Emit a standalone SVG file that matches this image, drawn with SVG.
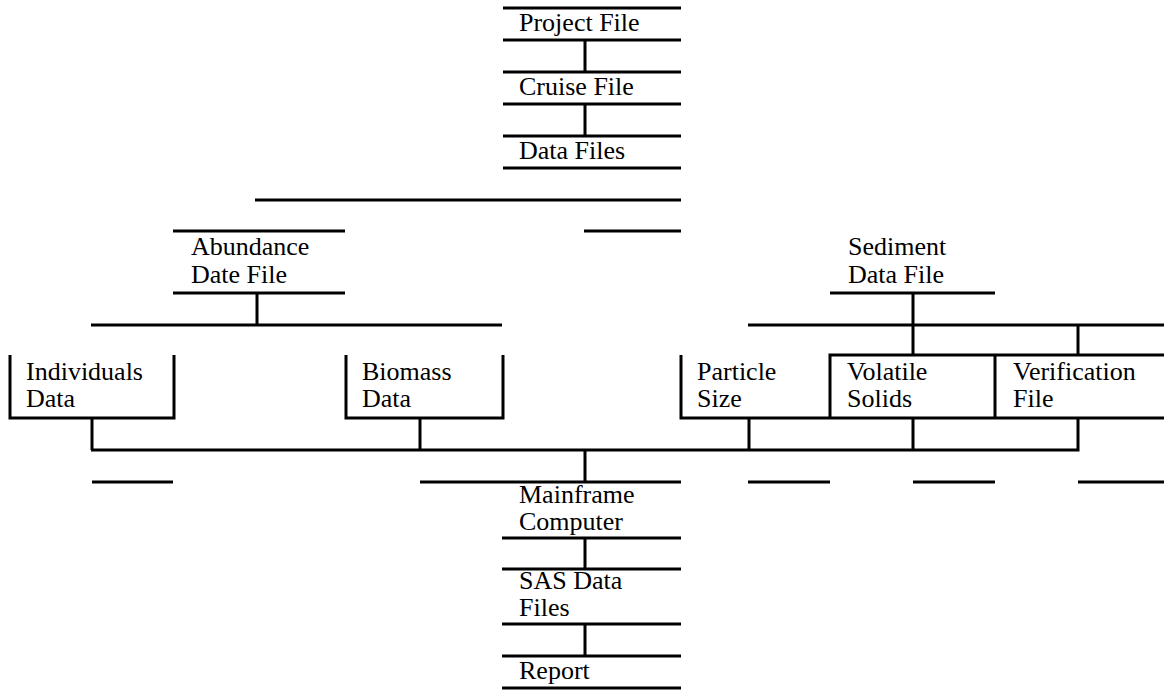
<svg xmlns="http://www.w3.org/2000/svg" width="1164" height="690" viewBox="0 0 1164 690">
<style>
  line, polyline { stroke: #000; stroke-width: 3; fill: none; stroke-linecap: butt; stroke-linejoin: miter; }
  text { font-family: "Liberation Serif", "Times New Roman", Times, serif; font-size: 26px; fill: #000; }
</style>
<rect x="0" y="0" width="1164" height="690" fill="#fff"/>
<g id="project-file">
  <line x1="503" y1="8" x2="681" y2="8"/>
  <line x1="503" y1="40" x2="681" y2="40"/>
  <text x="519" y="31">Project File</text>
</g>
<g id="cruise-file">
  <line x1="503" y1="72" x2="681" y2="72"/>
  <line x1="503" y1="104" x2="681" y2="104"/>
  <text x="519" y="95">Cruise File</text>
</g>
<g id="data-files">
  <line x1="503" y1="136" x2="681" y2="136"/>
  <line x1="503" y1="168" x2="681" y2="168"/>
  <text x="519" y="159">Data Files</text>
</g>
<g id="abundance-date-file">
  <line x1="173" y1="231" x2="345" y2="231"/>
  <line x1="173" y1="293" x2="345" y2="293"/>
  <text x="191" y="255">Abundance</text>
  <text x="191" y="283">Date File</text>
</g>
<g id="sediment-data-file">
  <line x1="830" y1="293" x2="995" y2="293"/>
  <text x="848" y="255">Sediment</text>
  <text x="848" y="283">Data File</text>
</g>
<g id="individuals-data">
  <polyline points="10,355 10,418 174,418 174,355"/>
  <text x="26" y="380">Individuals</text>
  <text x="26" y="407">Data</text>
</g>
<g id="biomass-data">
  <polyline points="346,355 346,418 503,418 503,355"/>
  <text x="362" y="380">Biomass</text>
  <text x="362" y="407">Data</text>
</g>
<g id="particle-size">
  <polyline points="681,355 681,418 830,418"/>
  <text x="697" y="380">Particle</text>
  <text x="697" y="407">Size</text>
</g>
<g id="volatile-solids">
  <polyline points="830,418 830,355 995,355"/>
  <line x1="830" y1="418" x2="995" y2="418"/>
  <text x="847" y="380">Volatile</text>
  <text x="847" y="407">Solids</text>
</g>
<g id="verification-file">
  <line x1="995" y1="355" x2="1164" y2="355"/>
  <line x1="995" y1="355" x2="995" y2="418"/>
  <line x1="995" y1="418" x2="1164" y2="418"/>
  <text x="1013" y="380">Verification</text>
  <text x="1013" y="407">File</text>
</g>
<g id="mainframe-computer">
  <line x1="420" y1="482" x2="681" y2="482"/>
  <line x1="502" y1="538" x2="681" y2="538"/>
  <text x="519" y="503">Mainframe</text>
  <text x="519" y="530">Computer</text>
</g>
<g id="sas-data-files">
  <line x1="502" y1="569" x2="681" y2="569"/>
  <line x1="502" y1="624" x2="681" y2="624"/>
  <text x="519" y="589">SAS Data</text>
  <text x="519" y="616">Files</text>
</g>
<g id="report">
  <line x1="502" y1="656" x2="681" y2="656"/>
  <line x1="502" y1="688" x2="681" y2="688"/>
  <text x="519" y="679">Report</text>
</g>
<g id="connectors">
  <line x1="585" y1="40" x2="585" y2="72"/>
  <line x1="585" y1="104" x2="585" y2="136"/>
  <line x1="255" y1="200" x2="681" y2="200"/>
  <line x1="584" y1="231" x2="681" y2="231"/>
  <line x1="257" y1="293" x2="257" y2="325"/>
  <line x1="91" y1="325" x2="502" y2="325"/>
  <line x1="913" y1="293" x2="913" y2="355"/>
  <line x1="748" y1="325" x2="1164" y2="325"/>
  <line x1="1078" y1="325" x2="1078" y2="355"/>
  <line x1="420" y1="418" x2="420" y2="450"/>
  <line x1="749" y1="418" x2="749" y2="450"/>
  <line x1="913" y1="418" x2="913" y2="450"/>
  <polyline points="1078,418 1078,450 91,450"/>
  <line x1="92" y1="450" x2="92" y2="418"/>
  <line x1="585" y1="450" x2="585" y2="482"/>
  <line x1="92" y1="482" x2="173" y2="482"/>
  <line x1="748" y1="482" x2="830" y2="482"/>
  <line x1="913" y1="482" x2="995" y2="482"/>
  <line x1="1078" y1="482" x2="1164" y2="482"/>
  <line x1="585" y1="538" x2="585" y2="569"/>
  <line x1="585" y1="624" x2="585" y2="656"/>
</g>
</svg>
